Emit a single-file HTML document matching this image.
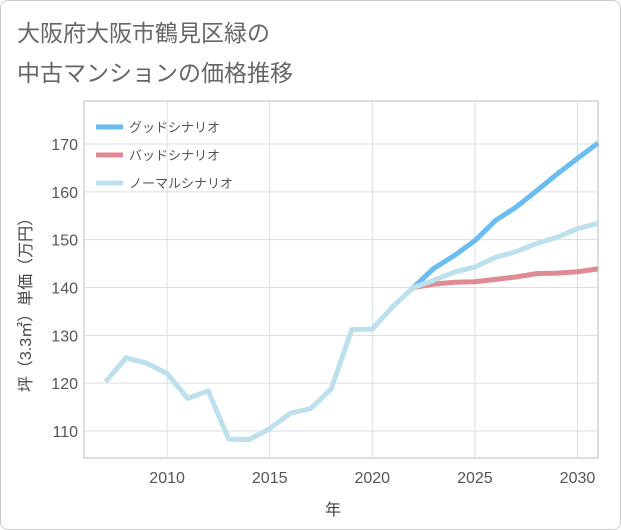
<!DOCTYPE html>
<html><head><meta charset="utf-8"><style>
body{margin:0;background:#fff;font-family:"Liberation Sans","Noto Sans CJK JP",sans-serif;}
#wrap{position:relative;width:619px;height:528px;border:1px solid #ccc;border-radius:8px;overflow:hidden;background:#fff}
</style></head><body>
<div id="wrap">
<svg id="chart" width="619" height="528">
<text x="16" y="40" font-size="23" fill="#666">大阪府大阪市鶴見区緑の</text>
<text x="16" y="80" font-size="23" fill="#666">中古マンションの価格推移</text>
<g id="grid"></g><g id="axes"></g><g id="series"></g><g id="legend"></g>
<text x="332" y="514" font-size="16" fill="#444" text-anchor="middle">年</text>
<text transform="translate(30,300) rotate(-90)" font-size="16" fill="#444" text-anchor="middle">坪（3.3㎡）単価（万円）</text>
</svg></div>
<script>
const years=[2007,2008,2009,2010,2011,2012,2013,2014,2015,2016,2017,2018,2019,2020,2021,2022,2023,2024,2025,2026,2027,2028,2029,2030,2031];
const normalVals=[120.3,125.3,124.2,122,116.8,118.4,108.3,108.2,110.5,113.7,114.7,118.8,131.2,131.3,136,140,141.5,143.2,144.3,146.3,147.5,149.2,150.5,152.3,153.4];
const futureYears=[2022,2023,2024,2025,2026,2027,2028,2029,2030,2031];
const goodVals=[140,144,146.7,149.8,154,156.8,160.2,163.7,167,170.2];
const badVals=[140,140.7,141.1,141.2,141.7,142.2,142.9,143,143.3,143.9];
const xTicks=[2010,2015,2020,2025,2030];
const yTicks=[110,120,130,140,150,160,170];
const L=83,R=597,T=100,B=457,x0=2005.95,x1=2031,y0=104.35,y1=179;
const X=v=>L+(v-x0)/(x1-x0)*(R-L), Y=v=>B-(v-y0)/(y1-y0)*(B-T);
const NS='http://www.w3.org/2000/svg';
function mk(tag,attrs,parent){const e=document.createElementNS(NS,tag);for(const k in attrs)e.setAttribute(k,attrs[k]);document.getElementById(parent).appendChild(e);return e;}
let r=mk('rect',{x:L,y:T,width:R-L,height:B-T,fill:'none',stroke:'#bbb'},'grid');


xTicks.forEach(t=>{let l=mk('line',{x1:X(t),x2:X(t),y1:T,y2:B,stroke:'#d5dfe8'},'grid');


let tx=mk('text',{x:X(t),y:B+25,'font-size':16,fill:'#555','text-anchor':'middle'},'axes');tx.textContent=t;

});
yTicks.forEach(t=>{let l=mk('line',{x1:L,x2:R,y1:Y(t),y2:Y(t),stroke:'#d5dfe8'},'grid');


let tx=mk('text',{x:L-6,y:Y(t)+6,'font-size':16,fill:'#555','text-anchor':'end'},'axes');tx.textContent=t;

});
function line(xs,vs,color,name){let p=mk('polyline',{points:xs.map((x,i)=>X(x)+','+Y(vs[i])).join(' '),fill:'none',stroke:color,'stroke-width':5,'stroke-linejoin':'round'},'series');

}
line(futureYears,badVals,'#e08a93','bad-scenario-line');
line(futureYears,goodVals,'#6bbcf0','good-scenario-line');
line(years,normalVals,'#bde0ef','normal-scenario-line');
[['グッドシナリオ','#6bbcf0',126],['バッドシナリオ','#e08a93',154],['ノーマルシナリオ','#bde0ef',182]].forEach(([t,c,y])=>{
let g=mk('g',{},'legend');


let l=document.createElementNS(NS,'line');l.setAttribute('x1',95);l.setAttribute('x2',122);l.setAttribute('y1',y);l.setAttribute('y2',y);l.setAttribute('stroke',c);l.setAttribute('stroke-width',5);g.appendChild(l);
let tx=document.createElementNS(NS,'text');tx.setAttribute('x',128);tx.setAttribute('y',y+5);tx.setAttribute('font-size',13);tx.setAttribute('fill','#555');tx.textContent=t;g.appendChild(tx);});
</script></body></html>
